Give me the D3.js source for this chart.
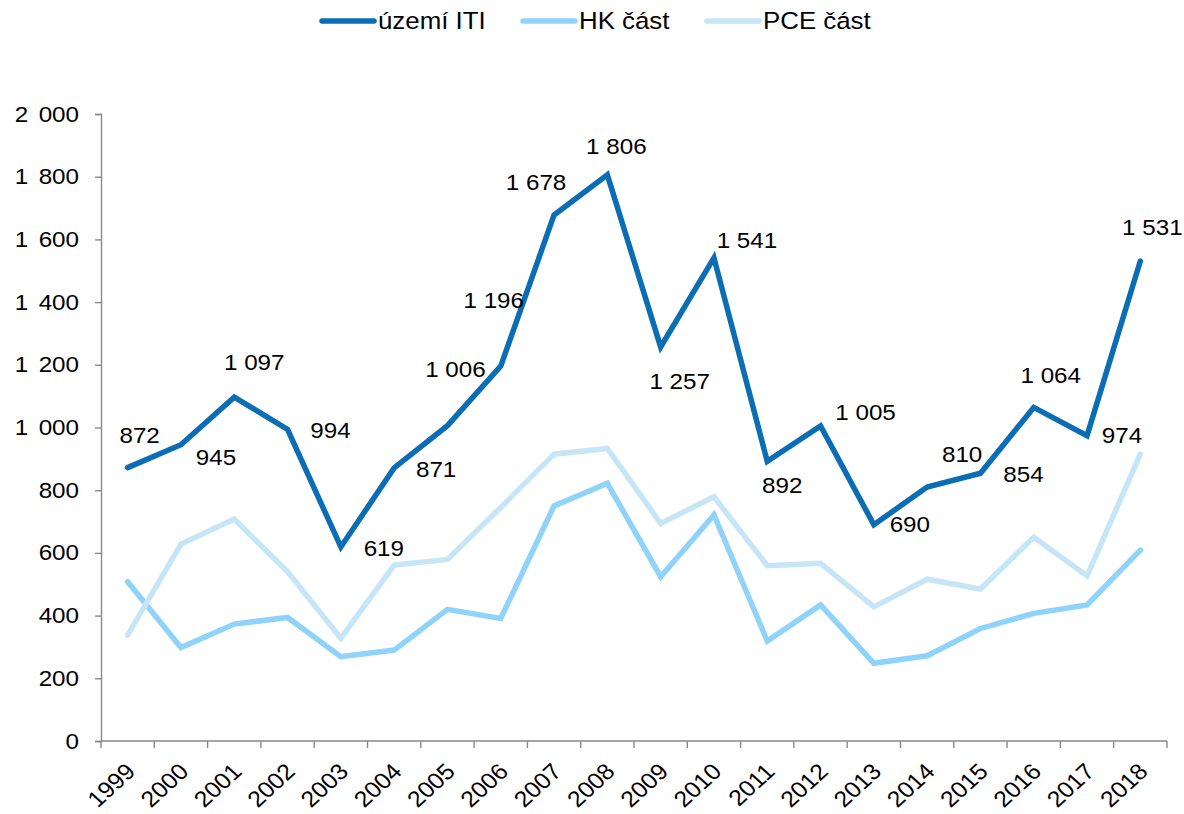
<!DOCTYPE html>
<html lang="cs">
<head>
    <meta charset="UTF-8">
    <title>území ITI</title>
    <style>
        body { margin: 0; background: #fff; }
        text { font-family: "Liberation Sans", Arial, sans-serif; fill: #000; }
    </style>
</head>
<body>
    <svg id="svg" width="1184" height="814"></svg>

    <script src="https://d3js.org/d3.v7.min.js"></script>
    <script>
        // data
        const years = ['1999', '2000', '2001', '2002', '2003', '2004', '2005', '2006', '2007', '2008',
                       '2009', '2010', '2011', '2012', '2013', '2014', '2015', '2016', '2017', '2018']
        const iti = [872, 945, 1097, 994, 619, 871, 1006, 1196, 1678, 1806, 1257, 1541, 892, 1005, 690, 810, 854, 1064, 974, 1531]
        const hk = [508, 298, 373, 394, 269, 290, 420, 391, 750, 822, 524, 721, 319, 434, 248, 272, 359, 407, 434, 609]
        const pce = [338, 628, 708, 540, 328, 561, 579, 745, 915, 933, 694, 779, 559, 567, 428, 516, 485, 650, 527, 915]
        const seriesNames = ['území ITI', 'HK část', 'PCE část']
        const yTicks = [0, 200, 400, 600, 800, 1000, 1200, 1400, 1600, 1800, 2000]

        // where each ITI value label sits, relative to its point
        const labelOffsets = [[12, -32], [35, 13], [20, -35], [43, 1], [43, 1], [42, 1], [8, -56], [-7, -66],
                              [-18, -33], [9, -29], [19, 34], [33, -18], [15, 24], [45, -14], [36, 0],
                              [35, -33], [43, 1], [17, -32], [35, 0], [12, -34]]

        const colors = ['#0b6db3', '#8fd3fa', '#c6e6f8']
        const sx = 1.1 // the text in the original is a bit wide

        const svg = d3.select('#svg')
        const plotLeft = 101, plotRight = 1167, plotTop = 114, plotBottom = 741

        const xScale = d3.scaleBand()
            .domain(years)
            .range([plotLeft, plotRight])
        const cx = d => xScale(d) + xScale.bandwidth() / 2
        const yScale = d3.scaleLinear()
            .domain([0, 2000])
            .range([plotBottom, plotTop])

        const fmt = d3.formatLocale({ decimal: ',', thousands: '\u00a0', grouping: [3], currency: ['', ''] }).format(',')

        // y axis
        const yAxis = svg.append('g')
            .attr('transform', `translate(${plotLeft},0)`)
            .call(d3.axisLeft(yScale).tickValues(yTicks).tickSize(6).tickPadding(16).tickFormat(fmt))
        yAxis.selectAll('path, line').attr('stroke', '#898989').attr('stroke-width', 1.4)
        yAxis.selectAll('text')
            .attr('x', -22 / sx)
            .attr('transform', `scale(${sx},1)`)
            .style('font-size', '22px')
            .style('word-spacing', '3.5px')
            .style('font-family', '"Liberation Sans", Arial, sans-serif')
            .attr('fill', '#000')

        // x axis, ticks between the categories
        const xAxis = svg.append('g')
        xAxis.append('line')
            .attr('x1', plotLeft).attr('x2', plotRight)
            .attr('y1', plotBottom).attr('y2', plotBottom)
            .attr('stroke', '#898989').attr('stroke-width', 1.4)
        const edges = years.map(d => xScale(d)).concat([plotRight])
        xAxis.selectAll('.tick')
            .data(edges)
            .enter()
            .append('line')
            .attr('x1', d => d).attr('x2', d => d)
            .attr('y1', plotBottom).attr('y2', plotBottom + 7)
            .attr('stroke', '#898989').attr('stroke-width', 1.4)
        xAxis.selectAll('.lab')
            .data(years)
            .enter()
            .append('text')
            .text(d => d)
            .attr('text-anchor', 'end')
            .attr('transform', d => `translate(${cx(d) + 9},773) scale(${sx},1) rotate(-45)`)
            .style('font-size', '22.5px')

        // lines
        const allSeries = [iti, hk, pce]
        const line = d3.line()
            .x((d, i) => cx(years[i]))
            .y(d => yScale(d))
        svg.selectAll('.series')
            .data(allSeries)
            .enter()
            .append('path')
            .attr('d', d => line(d))
            .attr('fill', 'none')
            .attr('stroke', (d, i) => colors[i])
            .attr('stroke-width', 5.5)
            .attr('stroke-linejoin', 'miter')
            .attr('stroke-linecap', 'round')

        // value labels for území ITI
        svg.selectAll('.val')
            .data(iti)
            .enter()
            .append('text')
            .text(d => fmt(d))
            .attr('text-anchor', 'middle')
            .attr('dy', '0.35em')
            .attr('transform', (d, i) => `translate(${cx(years[i]) + labelOffsets[i][0]},${yScale(d) + labelOffsets[i][1]}) scale(${sx},1)`)
            .style('font-size', '22px')

        // legend
        const legendX = [320, 521, 705]
        const legend = svg.selectAll('.leg')
            .data(seriesNames)
            .enter()
            .append('g')
            .attr('transform', (d, i) => `translate(${legendX[i]},21)`)
        legend.append('line')
            .attr('x1', 2).attr('x2', 54)
            .attr('stroke', (d, i) => colors[i])
            .attr('stroke-width', 5.5)
            .attr('stroke-linecap', 'round')
        legend.append('text')
            .text(d => d)
            .attr('dy', '0.36em')
            .attr('transform', `translate(58,0) scale(${sx},1)`)
            .style('font-size', '23.5px')
    </script>
</body>
</html>
